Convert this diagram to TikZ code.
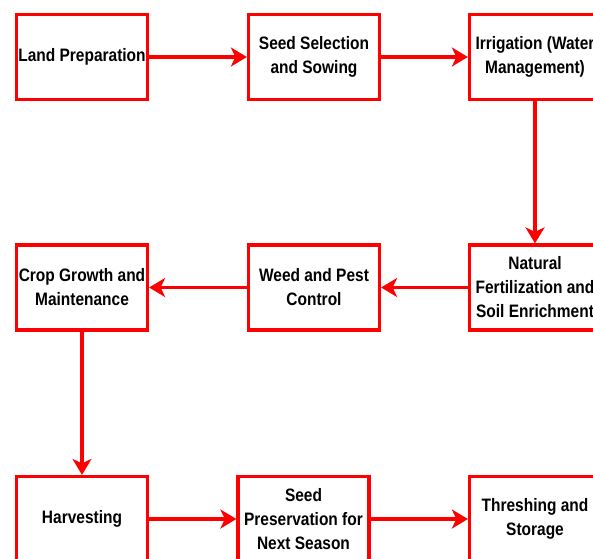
\documentclass[tikz,border=0pt]{standalone}
\usepackage{fontspec}
\setmainfont[FakeStretch=0.86]{Liberation Sans}
\usetikzlibrary{arrows.meta}

\begin{document}
\begin{tikzpicture}[x=1pt,y=-1pt,line width=3.2pt,
		stage/.style={draw=red,fill=white,minimum width=131pt,minimum height=85pt,inner sep=1pt,align=center,font=\bfseries\fontsize{18}{24}\selectfont},
		flow/.style={draw=red,-{Stealth[length=16pt,width=19pt,inset=4.5pt]}}]
			\useasboundingbox (0,0) rectangle (593,558);
			\node[stage] (s1) at (82,57) {Land Preparation};
			\node[stage] (s2) at (314,57) {Seed Selection\\and Sowing};
			\node[stage] (s3) at (535,57) {Irrigation (Water\\Management)};
			\node[stage] (s4) at (535,287.5) {Natural\\Fertilization and\\Soil Enrichment};
			\node[stage] (s5) at (314,287.5) {Weed and Pest\\Control};
			\node[stage] (s6) at (82,287.5) {Crop Growth and\\Maintenance};
			\node[stage] (s7) at (82,519) {Harvesting};
			\node[stage] (s8) at (303.5,519) {Seed\\Preservation for\\Next Season};
			\node[stage] (s9) at (535,519) {Threshing and\\Storage};
			\draw[flow] (s1) -- (s2);
			\draw[flow] (s2) -- (s3);
			\draw[flow] (s3) -- (s4);
			\draw[flow] (s4) -- (s5);
			\draw[flow] (s5) -- (s6);
			\draw[flow] (s6) -- (s7);
			\draw[flow] (s7) -- (s8);
			\draw[flow] (s8) -- (s9);
		\end{tikzpicture}
\end{document}
